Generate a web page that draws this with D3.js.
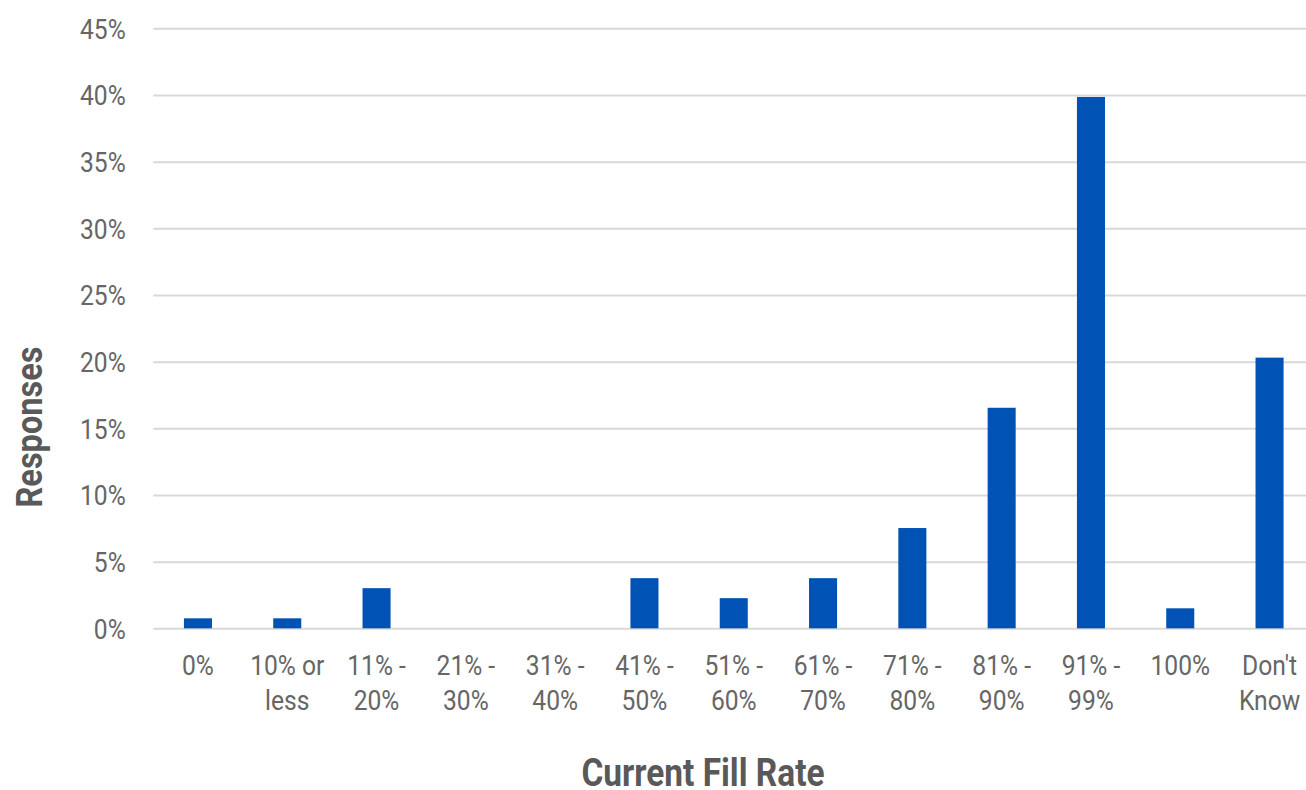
<!DOCTYPE html>
<html>
<head>
<meta charset="utf-8">
<script src="https://cdn.jsdelivr.net/npm/d3@7/dist/d3.min.js"></script>
<style>
  html, body { margin: 0; padding: 0; background: #fff; }
  svg { display: block; }
</style>
</head>
<body>
<svg id="chart" width="1306" height="790"></svg>
<script>
// Survey: current fill rate (share of responses, %)
const categories = ["0%", "10% or less", "11% - 20%", "21% - 30%", "31% - 40%", "41% - 50%",
                    "51% - 60%", "61% - 70%", "71% - 80%", "81% - 90%", "91% - 99%", "100%", "Don't Know"];
const responses = [0.75, 0.75, 3.01, 0, 0, 3.76, 2.26, 3.76, 7.52, 16.54, 39.85, 1.50, 20.30];
const yTicks = [0, 5, 10, 15, 20, 25, 30, 35, 40, 45];
const xTitle = "Current Fill Rate";
const yTitle = "Responses";

const W = 1306, H = 790;
const plotLeft = 153.3, bandRight = 1314.2, plotTop = 28.3, plotBottom = 628.3;
const SX = 0.88; // horizontal squeeze to give Roboto a condensed look
const FONT = "Roboto, 'Noto Sans', sans-serif";

const svg = d3.select("#chart");

const x = d3.scaleBand().domain(categories).range([plotLeft, bandRight]).paddingInner(0.686).paddingOuter(0.343);
const y = d3.scaleLinear().domain([0, 45]).range([plotBottom, plotTop]);

// Gridlines + y tick labels
const yAxis = d3.axisLeft(y).tickValues(yTicks).tickSize(-(W - plotLeft)).tickFormat(d => d + "%");
const gy = svg.append("g").attr("transform", `translate(${plotLeft},0)`).call(yAxis);
gy.select(".domain").remove();
gy.selectAll(".tick line").attr("stroke", "#d9d9d9").attr("stroke-width", 2);
gy.selectAll(".tick text")
  .attr("font-family", FONT).attr("font-size", 28).attr("fill", "#666")
  .attr("x", -27.6 / SX).attr("dy", "0.355em")
  .attr("transform", `scale(${SX},1)`);

// Bars
svg.append("g").selectAll("rect").data(responses).join("rect")
  .attr("x", (d, i) => x(categories[i]))
  .attr("width", x.bandwidth())
  .attr("y", d => y(d))
  .attr("height", d => y(0) - y(d))
  .attr("fill", "#0052b4");

// Category labels, wrapped onto two lines where needed
const xAxis = d3.axisBottom(x).tickSize(0).tickPadding(0);
const gx = svg.append("g").attr("transform", `translate(0,${plotBottom})`).call(xAxis);
gx.select(".domain").remove();
gx.selectAll(".tick text")
  .attr("font-family", FONT).attr("font-size", 28).attr("fill", "#666")
  .attr("y", 0).attr("dy", null)
  .attr("transform", `scale(${SX},1)`)
  .each(function (d) {
    const t = d3.select(this);
    const words = d.split(" ");
    const maxW = 80 / SX;
    const lines = [];
    let cur = [];
    t.text(null);
    const probe = t.append("tspan");
    words.forEach(w => {
      const trial = cur.concat([w]).join(" ");
      probe.text(trial);
      if (probe.node().getComputedTextLength() > maxW && cur.length) {
        lines.push(cur.join(" "));
        cur = [w];
      } else {
        cur.push(w);
      }
    });
    lines.push(cur.join(" "));
    probe.remove();
    lines.forEach((ln, k) => {
      t.append("tspan").attr("x", 0).attr("y", 46.7 + k * 35).text(ln);
    });
  });

// Axis titles
svg.append("text")
  .attr("transform", `translate(703,786) scale(${SX},1)`)
  .attr("text-anchor", "middle")
  .attr("font-family", FONT).attr("font-weight", 700).attr("font-size", 38)
  .attr("fill", "#595959")
  .text(xTitle);

svg.append("text")
  .attr("transform", `translate(42,427) rotate(-90) scale(${SX},1)`)
  .attr("text-anchor", "middle")
  .attr("font-family", FONT).attr("font-weight", 700).attr("font-size", 37)
  .attr("fill", "#595959")
  .text(yTitle);
</script>
</body>
</html>
